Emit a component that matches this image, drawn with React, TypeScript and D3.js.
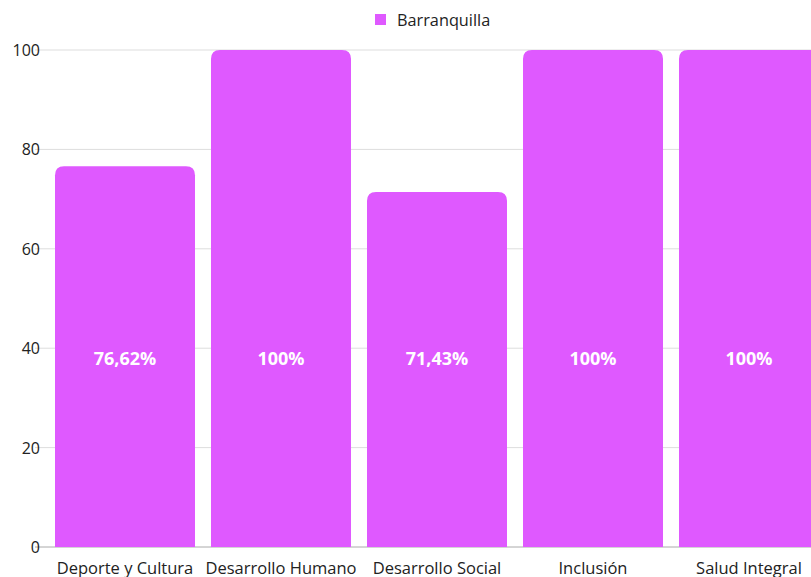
import React from "react";
import * as d3 from "d3";

const categories = ["Deporte y Cultura", "Desarrollo Humano", "Desarrollo Social", "Inclusión", "Salud Integral"];
const values = [76.62, 100, 71.43, 100, 100];
const valueLabels = ["76,62%", "100%", "71,43%", "100%", "100%"];
const yTicks = [0, 20, 40, 60, 80, 100];
const seriesName = "Barranquilla";

const W = 811, H = 577;
const FONT = "'Open Sans', sans-serif";
const COLOR = "#DF59FF";

function topRoundedRect(x: number, y: number, w: number, h: number, r: number) {
  const rr = Math.min(r, h, w / 2);
  return `M${x},${y + h}V${y + rr}Q${x},${y} ${x + rr},${y}H${x + w - rr}Q${x + w},${y} ${x + w},${y + rr}V${y + h}Z`;
}

export default function App() {
  const x = d3.scaleBand<string>().domain(categories).range([47, 827]).paddingInner(16 / 156).paddingOuter(8 / 156);
  const y = d3.scaleLinear().domain([0, 100]).range([547, 50]);
  const bw = x.bandwidth();
  return (
    <svg width={W} height={H} style={{ position: "absolute", left: 0, top: 0 }} fontFamily={FONT}>
      <rect x={375} y={14} width={11} height={11} fill={COLOR} />
      <text x={397} y={20} dominantBaseline="central" fontSize={16.3} fill="#222">{seriesName}</text>
      {yTicks.map(t => (
        <g key={t}>
          <line x1={35} x2={W} y1={y(t)} y2={y(t)} stroke={t === 0 ? "#aaa" : "#ddd"} strokeWidth={1} />
          <text x={40} y={y(t)} textAnchor="end" dominantBaseline="central" fontSize={16} fill="#222">{t}</text>
        </g>
      ))}
      {categories.map((c, i) => (
        <g key={c}>
          <path d={topRoundedRect(x(c)!, y(values[i]), bw, y(0) - y(values[i]), 9)} fill={COLOR} />
          <text x={x(c)! + bw / 2} y={y(38)} textAnchor="middle" dominantBaseline="central" fontSize={18} fontWeight="bold" fill="#fff">{valueLabels[i]}</text>
          <text x={x(c)! + bw / 2} y={567} textAnchor="middle" dominantBaseline="central" fontSize={16.5} fill="#222">{c}</text>
        </g>
      ))}
    </svg>
  );
}
